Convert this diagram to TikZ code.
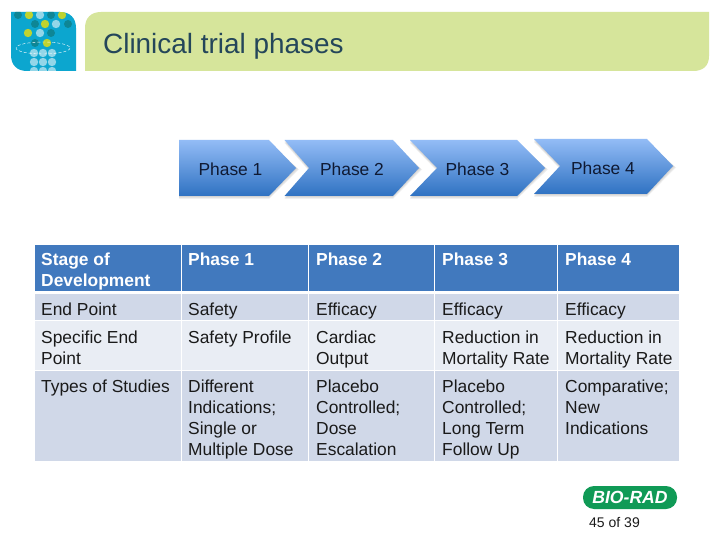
\documentclass[tikz,border=0pt]{standalone}
\usepackage{fontspec}
\setmainfont{Liberation Sans}
\definecolor{hdr}{HTML}{4179BE}
\definecolor{rowa}{HTML}{D0D8E8}
\definecolor{rowb}{HTML}{E9EDF4}
\definecolor{band}{HTML}{D6E59B}
\definecolor{titlec}{HTML}{24465A}
\definecolor{logob}{HTML}{0CA6CF}
\definecolor{dteal}{HTML}{0E8695}
\definecolor{dlime}{HTML}{BFD32F}
\definecolor{dlight}{HTML}{93D6E8}
\definecolor{biorad}{HTML}{109A56}
\definecolor{arrowtop}{HTML}{93BCF6}
\definecolor{arrowbot}{HTML}{2F72C2}
\definecolor{txt}{HTML}{1A1A1A}
\definecolor{chevink}{HTML}{0F1A33}
\tikzset{
  cell/.style={anchor=north west,inner sep=0pt,align=left,text=txt,font=\fontsize{17.4}{21}\selectfont},
  hcell/.style={anchor=north west,inner sep=0pt,align=left,text=white,font=\fontsize{17.4}{21}\selectfont\bfseries},
  chev/.style={top color=arrowtop,bottom color=arrowbot,draw=none},
  chevshadow/.style={fill=black,fill opacity=0.06,draw=none},
  chevtext/.style={inner sep=0pt,text=chevink,font=\fontsize{17.4}{21}\selectfont},
  teal/.style={fill=dteal,draw=none},
  lime/.style={fill=dlime,draw=none},
  lightd/.style={fill=dlight,draw=none},
}
\begin{document}
\begin{tikzpicture}[x=1pt,y=-1pt]
\useasboundingbox (0,0) rectangle (720,540);
\fill[white] (0,0) rectangle (720,540);
% logo
\begin{scope}
\clip (11,12) -- (60,12) .. controls (70,12) and (76,18) .. (76,28) -- (76,71) -- (27,71) .. controls (17,71) and (11,65) .. (11,55) -- cycle;
\fill[logob] (0,0) rectangle (80,80);
\foreach \x/\y in {18/15,51/15,35/24,68/24,51/33,35/43}{\fill[teal] (\x,\y) circle (4);}
\foreach \x/\y in {29/15,62/15,45/24,28/33,47/43}{\fill[lime] (\x,\y) circle (4.2);}
\foreach \x/\y in {40/15,56/24,40/33,34/53,43/53,52/53,34/62,43/62,52/62,34/71,43/71,52/71}{\fill[lightd] (\x,\y) circle (4.2);}
\draw[white,densely dashed,line width=0.4] (43,48) ellipse (27 and 6);
\end{scope}
% title band
\fill[band] (85,71) -- (85,28) .. controls (85,18) and (91,12) .. (101,12) -- (709,12) -- (709,56) .. controls (709,66) and (703,71) .. (693,71) -- cycle;
\node[anchor=west,inner sep=0pt,text=titlec,font=\fontsize{27.9}{30}\selectfont] (title) at (103,46) {Clinical trial phases};
% chevron shadows
\foreach \l/\s/\r/\nx/\tt/\b/\m in {179/269/296/179/140/196/168, 284.5/393/419/309/140/196/168, 410/517/545/437/140/196/168, 534/647/673/560/139/194/166}{
  \foreach \d in {1,2,3}{
    \fill[chevshadow] (\l,\tt+\d) -- (\s,\tt+\d) -- (\r+\d,\m+0.5*\d) -- (\s,\b+\d) -- (\l,\b+\d) -- (\nx,\m+\d) -- cycle;
  }
}
\path[chev] (179,140) -- (269,140) -- (296,168) -- (269,196) -- (179,196) -- cycle;
\path[chev] (284.5,140) -- (393,140) -- (419,168) -- (393,196) -- (284.5,196) -- (309,168) -- cycle;
\path[chev] (410,140) -- (517,140) -- (545,168) -- (517,196) -- (410,196) -- (437,168) -- cycle;
\path[chev] (534,139) -- (647,139) -- (673,166) -- (647,194) -- (534,194) -- (560,166) -- cycle;
\node[chevtext] (ph1) at (230.5,169) {Phase 1};
\node[chevtext] (ph2) at (352,169) {Phase 2};
\node[chevtext] (ph3) at (477.5,169) {Phase 3};
\node[chevtext] (ph4) at (603,168) {Phase 4};
% table
\fill[hdr] (35,245) rectangle (679,292.5);
\fill[rowa] (35,292.5) rectangle (679,320.5);
\fill[rowb] (35,320.5) rectangle (679,370.5);
\fill[rowa] (35,370.5) rectangle (679,461);
\foreach \x in {181.5,308.5,434.5,557.5}{\draw[white,line width=1.2] (\x,245) -- (\x,461);}
\foreach \y in {320.5,370.5}{\draw[white,line width=1.2] (35,\y) -- (679,\y);}
\draw[white,line width=2.2] (35,292.5) -- (679,292.5);
% header
\node[hcell] (h0) at (41,253) {Stage of\\Development};
\node[hcell] (h1) at (188,253) {Phase 1};
\node[hcell] (h2) at (316,253) {Phase 2};
\node[hcell] (h3) at (442,253) {Phase 3};
\node[hcell] (h4) at (565,253) {Phase 4};
% row 1
\node[cell] (a0) at (41,302.5) {End Point};
\node[cell] (a1) at (188,302.5) {Safety};
\node[cell] (a2) at (316,302.5) {Efficacy};
\node[cell] (a3) at (442,302.5) {Efficacy};
\node[cell] (a4) at (565,302.5) {Efficacy};
% row 2
\node[cell] (b0) at (41,330.5) {Specific End\\Point};
\node[cell] (b1) at (188,330.5) {Safety Profile};
\node[cell] (b2) at (316,330.5) {Cardiac\\Output};
\node[cell] (b3) at (442,330.5) {Reduction in\\Mortality Rate};
\node[cell] (b4) at (565,330.5) {Reduction in\\Mortality Rate};
% row 3
\node[cell] (c0) at (41,379.5) {Types of Studies};
\node[cell] (c1) at (188,379.5) {Different\\Indications;\\Single or\\Multiple Dose};
\node[cell] (c2) at (316,379.5) {Placebo\\Controlled;\\Dose\\Escalation};
\node[cell] (c3) at (442,379.5) {Placebo\\Controlled;\\Long Term\\Follow Up};
\node[cell] (c4) at (565,379.5) {Comparative;\\New\\Indications};
% Bio-Rad logo
\fill[biorad,rounded corners=11] (583,486) rectangle (677,509);
\node[inner sep=0pt,text=white,font=\fontsize{17.6}{20}\selectfont\bfseries\itshape] (brand) at (630,497.5) {BIO-RAD};
\node[inner sep=0pt,text=txt,font=\fontsize{14}{16}\selectfont] (page) at (614.5,522) {45 of 39};
\end{tikzpicture}
\end{document}
